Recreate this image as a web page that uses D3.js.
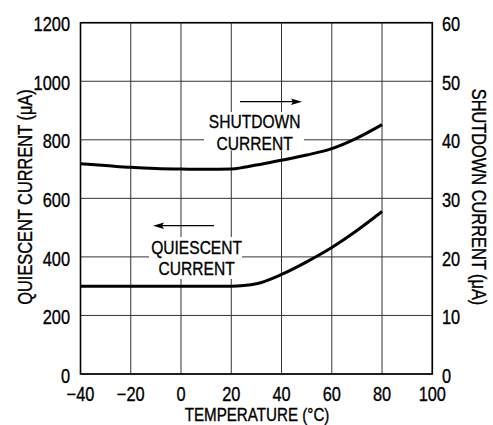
<!DOCTYPE html>
<html>
<head>
<meta charset="utf-8">
<script src="https://cdn.jsdelivr.net/npm/d3@7"></script>
<style>
  html, body { margin: 0; padding: 0; background: #fff; }
  svg text { font-family: "Liberation Sans", Arial, sans-serif; font-size: 20px; fill: #000; stroke: #000; stroke-width: 0.35px; }
</style>
</head>
<body>
<svg id="chart"></svg>
<script>
// temperature sweep (°C)
var temps = [-40, -30, -20, -10, 0, 10, 20, 25, 30, 40, 50, 60, 70, 80];
// quiescent current, left axis (µA)
var quiescent = [300, 300, 300, 300, 300, 300, 300, 302, 308, 340, 383, 432, 490, 555];
// shutdown current, right axis (µA)
var shutdown = [35.9, 35.6, 35.3, 35.1, 35.0, 34.95, 35.0, 35.3, 35.7, 36.5, 37.4, 38.5, 40.3, 42.6];

var xTicks = [-40, -20, 0, 20, 40, 60, 80, 100];
var leftTicks = [0, 200, 400, 600, 800, 1000, 1200];
var rightTicks = [0, 10, 20, 30, 40, 50, 60];

var width = 493,
    height = 425,
    m = {top: 22.7, right: 60.7, bottom: 51, left: 80.5},
    // narrow the font to look like a condensed face
    squeeze = 0.82;

var svg = d3.select('#chart')
  .attr('width', width)
  .attr('height', height);

var x = d3.scaleLinear().domain([-40, 100]).range([m.left, width - m.right]);
var yL = d3.scaleLinear().domain([0, 1200]).range([height - m.bottom, m.top]);
var yR = d3.scaleLinear().domain([0, 60]).range([height - m.bottom, m.top]);

function addText(parent, px, py, str, anchor, rot, dy, size) {
  var t = parent.append('text')
    .attr('transform', 'translate(' + px + ',' + py + ')' + (rot ? ' rotate(' + rot + ')' : '') + ' scale(' + squeeze + ',1)')
    .attr('dy', dy || 0)
    .attr('text-anchor', anchor || 'middle')
    .text(str);
  if (size) t.style('font-size', size + 'px');
  return t;
}

// grid
svg.append('g')
  .selectAll('line')
  .data(xTicks)
  .enter().append('line')
    .attr('x1', function (d) { return x(d); })
    .attr('x2', function (d) { return x(d); })
    .attr('y1', yL(0))
    .attr('y2', yL(1200))
    .attr('stroke', '#333')
    .attr('stroke-width', 1);

svg.append('g')
  .selectAll('line')
  .data(leftTicks)
  .enter().append('line')
    .attr('x1', x(-40))
    .attr('x2', x(100))
    .attr('y1', function (d) { return yL(d); })
    .attr('y2', function (d) { return yL(d); })
    .attr('stroke', '#333')
    .attr('stroke-width', 1);

// frame
svg.append('rect')
  .attr('x', x(-40))
  .attr('y', yL(1200))
  .attr('width', x(100) - x(-40))
  .attr('height', yL(0) - yL(1200))
  .attr('fill', 'none')
  .attr('stroke', '#000')
  .attr('stroke-width', 1.6);

// tick labels
var tl = svg.append('g');
xTicks.forEach(function (d) {
  addText(tl, x(d), 400.5, d < 0 ? '\u2212' + (-d) : String(d), 'middle');
});
leftTicks.forEach(function (d) {
  addText(tl, 70, yL(d), String(d), 'end', 0, '0.43em');
});
rightTicks.forEach(function (d) {
  addText(tl, 442, yR(d), String(d), 'start', 0, '0.43em');
});

// axis titles
addText(svg, 257, 421, 'TEMPERATURE (°C)', 'middle', 0, 0, 18.5);
addText(svg, 31.5, 197, 'QUIESCENT CURRENT (\u03bcA)', 'middle', -90);
addText(svg, 471.5, 197, 'SHUTDOWN CURRENT (\u03bcA)', 'middle', 90);

// label boxes with arrows
function label(lines, cx, y0, box, arrow) {
  var g = svg.append('g');
  g.append('rect')
    .attr('x', box[0]).attr('y', box[1])
    .attr('width', box[2] - box[0]).attr('height', box[3] - box[1])
    .attr('fill', '#fff');
  lines.forEach(function (t, i) {
    addText(g, cx, y0 + i * 21.3, t, 'middle', 0, 0, 19);
  });
  var dir = arrow[1] > arrow[0] ? 1 : -1;
  g.append('line')
    .attr('x1', arrow[0]).attr('x2', arrow[1] - dir * 8)
    .attr('y1', arrow[2]).attr('y2', arrow[2])
    .attr('stroke', '#000').attr('stroke-width', 1.3);
  g.append('path')
    .attr('d', 'M' + arrow[1] + ',' + arrow[2] +
      'L' + (arrow[1] - dir * 11) + ',' + (arrow[2] - 3.2) +
      'L' + (arrow[1] - dir * 9) + ',' + arrow[2] +
      'L' + (arrow[1] - dir * 11) + ',' + (arrow[2] + 3.2) + 'Z')
    .attr('fill', '#000');
}

label(['SHUTDOWN', 'CURRENT'], 254.6, 128.3, [204, 112, 304, 150.5], [240, 302, 101.7]);
label(['QUIESCENT', 'CURRENT'], 196.6, 253.5, [149, 237, 242, 279], [214, 153, 225.7]);

// curves
var qLine = d3.line()
  .x(function (d, i) { return x(temps[i]); })
  .y(function (d) { return yL(d); })
  .curve(d3.curveMonotoneX);

var sLine = d3.line()
  .x(function (d, i) { return x(temps[i]); })
  .y(function (d) { return yR(d); })
  .curve(d3.curveMonotoneX);

svg.append('path')
  .attr('d', qLine(quiescent))
  .attr('fill', 'none')
  .attr('stroke', '#000')
  .attr('stroke-width', 3);

svg.append('path')
  .attr('d', sLine(shutdown))
  .attr('fill', 'none')
  .attr('stroke', '#000')
  .attr('stroke-width', 3);
</script>
</body>
</html>
